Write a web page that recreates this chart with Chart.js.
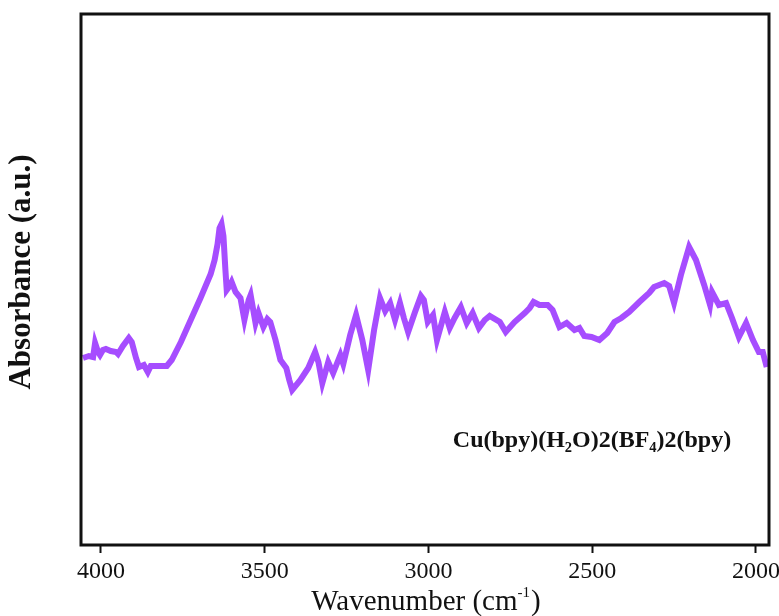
<!DOCTYPE html>
<html>
<head>
<meta charset="utf-8">
<script src="https://cdn.jsdelivr.net/npm/chart.js@4.4.0/dist/chart.umd.min.js"></script>
<style>
  html, body { margin: 0; padding: 0; background: #fff; }
  #wrap { width: 779px; height: 616px; }
</style>
</head>
<body>
<div id="wrap"><canvas id="irChart" width="779" height="616"></canvas></div>
<script>
// IR spectrum, values (absorbance in arbitrary units)
const wavenumbers = [4055, 4037, 4024, 4018, 4009, 4003, 3994, 3985, 3970, 3954, 3948, 3933, 3915, 3906, 3893,
  3884, 3869, 3857, 3848, 3823, 3799, 3784, 3756, 3726, 3696, 3665, 3653, 3644, 3638, 3632, 3626, 3620, 3616,
  3607, 3601, 3589, 3574, 3562, 3549, 3543, 3528, 3519, 3504, 3492, 3483, 3467, 3452, 3443, 3434, 3425, 3416,
  3391, 3367, 3346, 3336, 3324, 3306, 3291, 3269, 3260, 3239, 3221, 3202, 3184, 3166, 3148, 3132, 3117, 3102,
  3087, 3075, 3062, 3041, 3023, 3014, 3002, 2986, 2974, 2950, 2935, 2920, 2901, 2883, 2865, 2846, 2828, 2813,
  2782, 2764, 2737, 2706, 2691, 2679, 2661, 2636, 2621, 2600, 2578, 2554, 2539, 2524, 2502, 2478, 2454, 2432,
  2411, 2387, 2356, 2326, 2311, 2280, 2265, 2250, 2229, 2204, 2183, 2158, 2140, 2134, 2113, 2091, 2073, 2052,
  2030, 2009, 1991, 1979, 1967];
const absorbance = [1.87, 1.89, 1.88, 2.02, 1.93, 1.90, 1.95, 1.96, 1.94, 1.93, 1.91, 1.99, 2.07, 2.03, 1.87,
  1.78, 1.80, 1.73, 1.79, 1.79, 1.79, 1.85, 2.03, 2.25, 2.47, 2.71, 2.85, 3.01, 3.17, 3.21, 3.09, 2.75, 2.55,
  2.59, 2.63, 2.53, 2.47, 2.25, 2.45, 2.50, 2.22, 2.32, 2.18, 2.26, 2.23, 2.05, 1.85, 1.81, 1.77, 1.65, 1.55,
  1.65, 1.77, 1.93, 1.83, 1.62, 1.83, 1.72, 1.90, 1.81, 2.10, 2.30, 2.05, 1.75, 2.15, 2.47, 2.34, 2.42, 2.25,
  2.42, 2.27, 2.13, 2.33, 2.49, 2.45, 2.23, 2.30, 2.05, 2.33, 2.17, 2.27, 2.38, 2.22, 2.32, 2.17, 2.25, 2.29,
  2.23, 2.13, 2.23, 2.32, 2.37, 2.43, 2.40, 2.40, 2.35, 2.18, 2.22, 2.15, 2.17, 2.09, 2.08, 2.05, 2.12, 2.23,
  2.27, 2.33, 2.43, 2.52, 2.58, 2.62, 2.59, 2.42, 2.70, 2.98, 2.85, 2.60, 2.40, 2.53, 2.40, 2.42, 2.27, 2.08,
  2.22, 2.05, 1.93, 1.93, 1.78];
const xTicks = [4000, 3500, 3000, 2500, 2000];

const yTitle = 'Absorbance (a.u.)';
const sampleLabel = 'Cu(bpy)(H₂O)2(BF₄)2(bpy)';

const serif = '"Liberation Serif", "DejaVu Serif", serif';

// frame, axis titles and sample label
const decorations = {
    id: 'decorations',
    afterDraw(chart) {
        const ctx = chart.ctx;
        const a = chart.chartArea;
        ctx.save();
        ctx.strokeStyle = '#111';
        ctx.lineWidth = 3;
        ctx.strokeRect(a.left, a.top, a.right - a.left, a.bottom - a.top);

        // x title with a small superscript -1
        ctx.fillStyle = '#111';
        ctx.textBaseline = 'alphabetic';
        ctx.textAlign = 'left';
        const big = '29px ' + serif, small = '15px ' + serif;
        ctx.font = big;
        const w1 = ctx.measureText('Wavenumber (cm').width;
        const w3 = ctx.measureText(')').width;
        ctx.font = small;
        const w2 = ctx.measureText('-1').width;
        let x = 426 - (w1 + w2 + w3 + 1) / 2;
        const base = 610;
        ctx.font = big;
        ctx.fillText('Wavenumber (cm', x, base);
        x += w1;
        ctx.font = small;
        ctx.fillText('-1', x, base - 13);
        x += w2 + 1;
        ctx.font = big;
        ctx.fillText(')', x, base);

        ctx.textAlign = 'center';
        ctx.textBaseline = 'middle';
        ctx.font = 'bold 31px ' + serif;
        ctx.translate(22, 272);
        ctx.rotate(-Math.PI / 2);
        ctx.fillText(yTitle, 0, 0);
        ctx.restore();

        ctx.save();
        ctx.fillStyle = '#111';
        ctx.textAlign = 'center';
        ctx.textBaseline = 'middle';
        ctx.font = 'bold 24px ' + serif;
        ctx.fillText(sampleLabel, 592, 441);
        ctx.restore();
    }
};

const ctx = document.getElementById('irChart').getContext('2d');
const irChart = new Chart(ctx, {
    type: 'line',
    data: {
        labels: wavenumbers,
        datasets: [{
            data: wavenumbers.map((w, i) => ({ x: w, y: absorbance[i] })),
            borderColor: '#a64dff',
            borderWidth: 6,
            pointRadius: 0,
            tension: 0,
            fill: false
        }]
    },
    options: {
        responsive: false,
        animation: false,
        layout: { padding: { left: 81, right: 10, top: 14, bottom: 0 } },
        plugins: {
            legend: { display: false },
            tooltip: { enabled: false }
        },
        scales: {
            x: {
                type: 'linear',
                reverse: true,
                min: 1960,
                max: 4061,
                afterBuildTicks: (scale) => { scale.ticks = xTicks.map(v => ({ value: v })); },
                afterFit: (scale) => {
                    scale.height = 71;
                    scale.paddingLeft = 0;
                    scale.paddingRight = 0;
                },
                border: { display: false },
                grid: {
                    drawOnChartArea: false,
                    drawTicks: true,
                    tickLength: 8,
                    tickWidth: 2,
                    tickColor: '#111'
                },
                ticks: {
                    color: '#111',
                    padding: 4,
                    maxRotation: 0,
                    callback: (v) => String(v),
                    font: { family: serif, size: 24 }
                }
            },
            y: {
                display: false,
                min: 0,
                max: 5.31
            }
        }
    },
    plugins: [decorations]
});
</script>
</body>
</html>
